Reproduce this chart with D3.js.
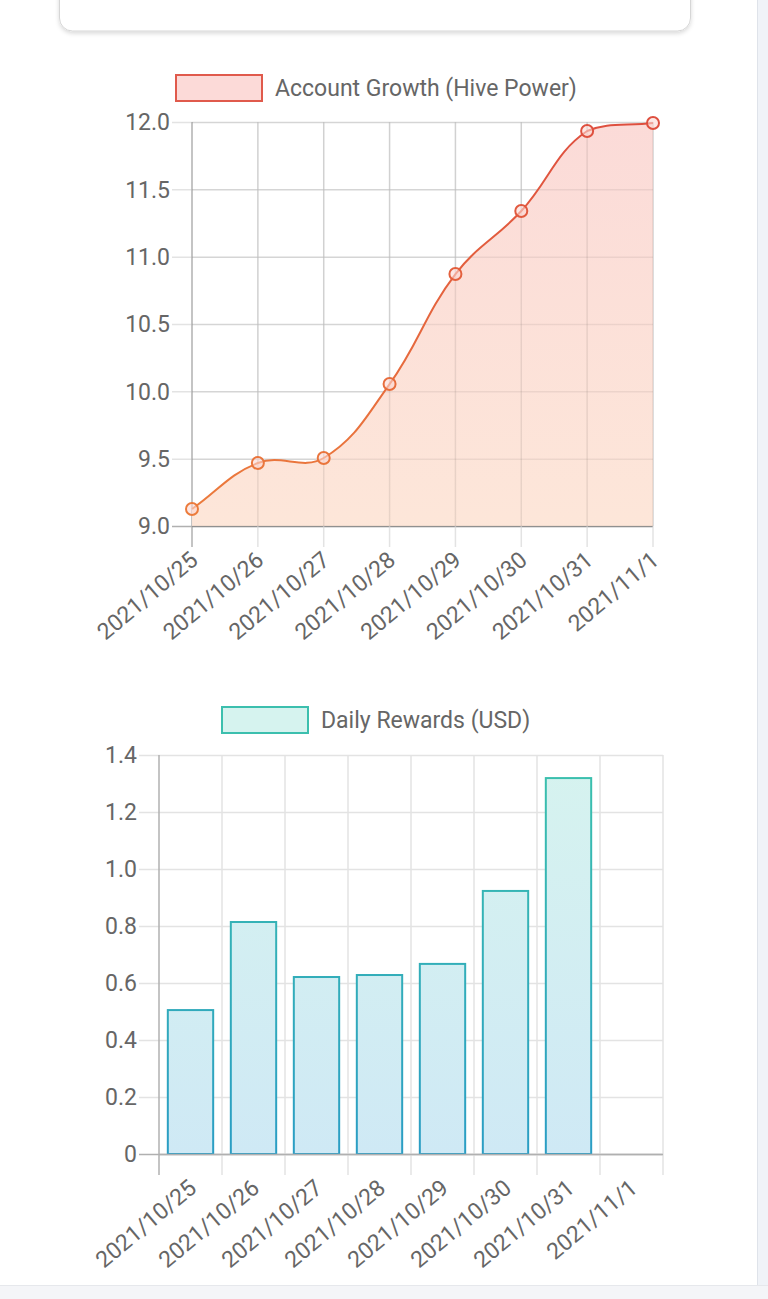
<!DOCTYPE html>
<html><head><meta charset="utf-8">
<script src="https://cdn.jsdelivr.net/npm/d3@7"></script>
<style>
html,body{margin:0;padding:0;background:#fff;overflow:hidden;}
svg{display:block;font-family:Roboto, "Noto Sans", sans-serif;}
</style></head>
<body>
<svg id="c" width="768" height="1299"></svg>
<script>
const dates = ["2021/10/25","2021/10/26","2021/10/27","2021/10/28","2021/10/29","2021/10/30","2021/10/31","2021/11/1"];
const hivePower = [9.126, 9.468, 9.505, 10.054, 10.871, 11.339, 11.933, 11.993];
const rewardsUSD = [0.505, 0.814, 0.621, 0.628, 0.667, 0.923, 1.319, 0];
const hpTicks = [9.0, 9.5, 10.0, 10.5, 11.0, 11.5, 12.0];
const usdTicks = [0, 0.2, 0.4, 0.6, 0.8, 1.0, 1.2, 1.4];
const lineLabel = "Account Growth (Hive Power)";
const barLabel = "Daily Rewards (USD)";

const svg = d3.select("#c");
const defs = svg.append("defs");
const TXT = "#666";
const GRID = "#e3e3e3";
const AXIS = "#b0b0b0";
const FS = 23;

// page chrome
svg.append("rect").attr("x",757).attr("y",0).attr("width",11).attr("height",1299).attr("fill","#f0f3f8");
svg.append("line").attr("x1",757.5).attr("x2",757.5).attr("y1",0).attr("y2",1285).attr("stroke","#dfe3ea");
svg.append("rect").attr("x",0).attr("y",1285).attr("width",768).attr("height",14).attr("fill","#f4f5f8");
svg.append("line").attr("x1",0).attr("x2",768).attr("y1",1285.5).attr("y2",1285.5).attr("stroke","#e6e8ec");
const sh = defs.append("filter").attr("id","sh").attr("x","-10%").attr("y","-50%").attr("width","120%").attr("height","200%");
sh.append("feDropShadow").attr("dx",0).attr("dy",2).attr("stdDeviation",2).attr("flood-color","#000").attr("flood-opacity",0.15);
svg.append("rect").attr("x",59.5).attr("y",-30).attr("width",631).attr("height",61).attr("rx",13)
  .attr("fill","#fff").attr("stroke","#d6d6d6").attr("filter","url(#sh)");

function grad(id, y1, y2, c1, c2){
  const g = defs.append("linearGradient").attr("id",id).attr("gradientUnits","userSpaceOnUse")
    .attr("x1",0).attr("x2",0).attr("y1",y1).attr("y2",y2);
  g.append("stop").attr("offset",0).attr("stop-color",c1);
  g.append("stop").attr("offset",1).attr("stop-color",c2);
}

// Chart.js-style spline (tension 0.4, control points capped to the chart area)
function splinePath(pts, t, top, bottom, left, right, closeTo){
  const n = pts.length, cps = [];
  for (let i=0;i<n;i++){
    const prev = pts[Math.max(0,i-1)], cur = pts[i], next = pts[Math.min(n-1,i+1)];
    const d01 = Math.hypot(cur[0]-prev[0], cur[1]-prev[1]);
    const d12 = Math.hypot(next[0]-cur[0], next[1]-cur[1]);
    let s01 = d01/(d01+d12), s12 = d12/(d01+d12);
    if (isNaN(s01)) s01 = 0; if (isNaN(s12)) s12 = 0;
    const fa = t*s01, fb = t*s12;
    const cap = (p)=>[Math.max(left,Math.min(right,p[0])), Math.max(top,Math.min(bottom,p[1]))];
    cps.push({
      p: cap([cur[0]-fa*(next[0]-prev[0]), cur[1]-fa*(next[1]-prev[1])]),
      n: cap([cur[0]+fb*(next[0]-prev[0]), cur[1]+fb*(next[1]-prev[1])])
    });
  }
  const path = d3.path();
  if (closeTo !== undefined){ path.moveTo(pts[0][0], closeTo); path.lineTo(pts[0][0], pts[0][1]); }
  else path.moveTo(pts[0][0], pts[0][1]);
  for (let i=1;i<n;i++){
    path.bezierCurveTo(cps[i-1].n[0], cps[i-1].n[1], cps[i].p[0], cps[i].p[1], pts[i][0], pts[i][1]);
  }
  if (closeTo !== undefined){ path.lineTo(pts[n-1][0], closeTo); path.closePath(); }
  return path.toString();
}

/* ---------- Line chart ---------- */
const L = {left:192, right:653, top:122, bottom:526};
const x1 = d3.scalePoint().domain(dates).range([L.left, L.right]);
const y1 = d3.scaleLinear().domain([9,12]).range([L.bottom, L.top]);
grad("lfill", L.top, L.bottom, "#fbd9d6", "#fde5d7");
grad("lstroke", L.top, L.bottom, "#de4f3f", "#ec7d3c");

const g1 = svg.append("g");
g1.selectAll(".hg").data(hpTicks).join("line")
  .attr("x1", L.left-20).attr("x2", L.right)
  .attr("y1", d=>y1(d)+0.5).attr("y2", d=>y1(d)+0.5)
  .attr("stroke", d=> d===9 ? AXIS : GRID).attr("stroke-width",1.5);
g1.selectAll(".vg").data(dates).join("line")
  .attr("x1", d=>x1(d)).attr("x2", d=>x1(d))
  .attr("y1", L.top).attr("y2", L.bottom+21)
  .attr("stroke", (d,i)=> i===0 ? AXIS : GRID).attr("stroke-width",1.5);

const pts = dates.map((d,i)=>[x1(d), y1(hivePower[i])]);
g1.append("path").attr("d", splinePath(pts,0.4,L.top,L.bottom,L.left,L.right,L.bottom)).attr("fill","url(#lfill)").attr("opacity",0.95);
g1.selectAll(".vg2").data(dates.slice(1)).join("line")
  .attr("x1", d=>x1(d)).attr("x2", d=>x1(d)).attr("y1", L.top).attr("y2", L.bottom)
  .attr("stroke","rgba(0,0,0,0.08)").attr("stroke-width",1.5);
g1.selectAll(".hg2").data(hpTicks.slice(1)).join("line")
  .attr("x1", L.left).attr("x2", L.right).attr("y1", d=>y1(d)+0.5).attr("y2", d=>y1(d)+0.5)
  .attr("stroke","rgba(0,0,0,0.06)").attr("stroke-width",1.5);
g1.append("line").attr("x1",L.left).attr("x2",L.right).attr("y1",L.bottom+0.5).attr("y2",L.bottom+0.5)
  .attr("stroke","rgba(0,0,0,0.18)").attr("stroke-width",1.5);
g1.append("path").attr("d", splinePath(pts,0.4,L.top,L.bottom,L.left,L.right)).attr("fill","none").attr("stroke","url(#lstroke)").attr("stroke-width",2);
g1.selectAll(".pt").data(pts).join("circle")
  .attr("cx",p=>p[0]).attr("cy",p=>p[1]).attr("r",6)
  .attr("fill","rgba(251,215,210,0.6)").attr("stroke","url(#lstroke)").attr("stroke-width",2);

g1.selectAll(".yl").data(hpTicks).join("text")
  .attr("x", L.left-22).attr("y", d=>y1(d)).attr("dy","0.36em")
  .attr("text-anchor","end").attr("fill",TXT).attr("font-size",FS)
  .text(d=>d3.format(".1f")(d));
g1.selectAll(".xl").data(dates).join("text")
  .attr("transform", d=>`translate(${x1(d)+2},${L.bottom+30}) rotate(-40)`)
  .attr("text-anchor","end").attr("dy","0.36em").attr("fill",TXT).attr("font-size",FS)
  .text(d=>d);
svg.append("rect").attr("x",176).attr("y",75).attr("width",86).attr("height",26)
  .attr("fill","#fcdad8").attr("stroke","#e05a4c").attr("stroke-width",2);
svg.append("text").attr("x",275).attr("y",88).attr("dy","0.36em").attr("fill",TXT).attr("font-size",FS).text(lineLabel);

/* ---------- Bar chart ---------- */
const B = {left:159, right:663, top:755, bottom:1154};
const x2 = d3.scaleBand().domain(dates).range([B.left, B.right]).paddingInner(0).paddingOuter(0);
const y2 = d3.scaleLinear().domain([0,1.4]).range([B.bottom, B.top]);
grad("bfill", B.top, B.bottom, "#d6f3ef", "#cfe9f5");
grad("bstroke", B.top, B.bottom, "#3bc1ac", "#2a9dc4");
const g2 = svg.append("g");
const edges = dates.map(d=>x2(d)).concat([B.right]);
g2.selectAll(".hg").data(usdTicks).join("line")
  .attr("x1", B.left-20).attr("x2", B.right)
  .attr("y1", d=>y2(d)+0.5).attr("y2", d=>y2(d)+0.5)
  .attr("stroke", d=> d===0 ? AXIS : GRID).attr("stroke-width",1.5);
g2.selectAll(".vg").data(edges).join("line")
  .attr("x1", d=>d).attr("x2", d=>d)
  .attr("y1", B.top).attr("y2", B.bottom+21)
  .attr("stroke", (d,i)=> i===0 ? AXIS : GRID).attr("stroke-width",1.5);
const bw = x2.bandwidth()*0.72;
g2.selectAll(".bar").data(dates.filter((d,i)=>rewardsUSD[i]>0)).join("rect")
  .attr("x", d=>x2(d)+x2.bandwidth()/2-bw/2)
  .attr("width", bw)
  .attr("y", d=>y2(rewardsUSD[dates.indexOf(d)]))
  .attr("height", d=>B.bottom - y2(rewardsUSD[dates.indexOf(d)]))
  .attr("fill","url(#bfill)").attr("stroke","url(#bstroke)").attr("stroke-width",2);
g2.append("line").attr("x1",B.left).attr("x2",B.right).attr("y1",B.bottom+0.5).attr("y2",B.bottom+0.5)
  .attr("stroke",AXIS).attr("stroke-width",1.5);
g2.selectAll(".yl").data(usdTicks).join("text")
  .attr("x", B.left-22).attr("y", d=>y2(d)).attr("dy","0.36em")
  .attr("text-anchor","end").attr("fill",TXT).attr("font-size",FS)
  .text(d=> d===0 ? "0" : d3.format(".1f")(d));
g2.selectAll(".xl").data(dates).join("text")
  .attr("transform", d=>`translate(${x2(d)+x2.bandwidth()/2+2},${B.bottom+30}) rotate(-40)`)
  .attr("text-anchor","end").attr("dy","0.36em").attr("fill",TXT).attr("font-size",FS)
  .text(d=>d);
svg.append("rect").attr("x",222).attr("y",707).attr("width",86).attr("height",26)
  .attr("fill","#d6f3ef").attr("stroke","#3cbfae").attr("stroke-width",2);
svg.append("text").attr("x",321).attr("y",720).attr("dy","0.36em").attr("fill",TXT).attr("font-size",FS).text(barLabel);
</script>
</body></html>
